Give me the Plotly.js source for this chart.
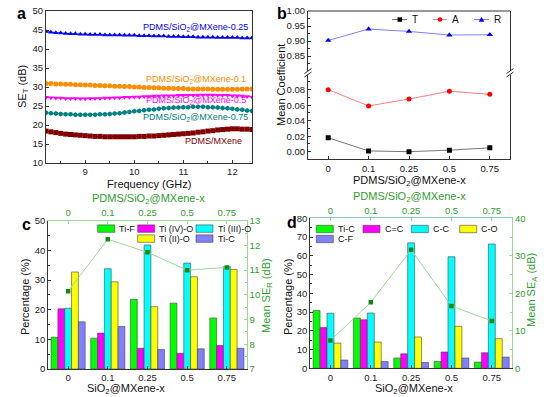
<!DOCTYPE html>
<html><head><meta charset="utf-8">
<script src="https://cdn.plot.ly/plotly-3.0.1.min.js"></script>
<style>html,body{margin:0;padding:0;background:#fff}#chart{width:554px;height:397px}</style>
</head><body><div id="chart"></div>
<script>
// ---------- Panel a data ----------
const freq = [8.2,8.3,8.4,8.5,8.6,8.7,8.8,8.9,9.0,9.1,9.2,9.3,9.4,9.5,9.6,9.7,9.8,9.9,10.0,10.1,10.2,10.3,10.4,10.5,10.6,10.7,10.8,10.9,11.0,11.1,11.2,11.3,11.4,11.5,11.6,11.7,11.8,11.9,12.0,12.1,12.2,12.3,12.4];
const seT025 = [44.6,44.4,44.3,44.2,44.1,44.0,44.0,43.9,43.9,43.8,43.8,43.8,43.7,43.7,43.7,43.7,43.6,43.6,43.6,43.5,43.5,43.5,43.4,43.4,43.4,43.3,43.3,43.3,43.2,43.2,43.2,43.1,43.1,43.1,43.1,43.0,43.0,43.0,43.0,43.0,42.9,42.9,42.9];
const seT01 = [30.9,30.9,30.8,30.8,30.7,30.7,30.6,30.6,30.5,30.5,30.4,30.4,30.3,30.3,30.2,30.2,30.1,30.1,30.0,30.0,29.9,29.9,29.8,29.8,29.7,29.7,29.6,29.6,29.6,29.5,29.5,29.5,29.5,29.5,29.4,29.4,29.4,29.4,29.4,29.4,29.5,29.5,29.5];
const seT05 = [27.3,27.2,27.1,27.1,27.0,27.0,27.0,26.9,26.9,27.0,27.0,27.0,27.1,27.1,27.2,27.2,27.3,27.3,27.4,27.4,27.5,27.5,27.6,27.6,27.7,27.7,27.7,27.8,27.8,27.8,27.8,27.9,27.9,27.9,27.9,27.8,27.8,27.8,27.7,27.7,27.6,27.5,27.4];
const seT075 = [23.2,23.1,23.0,22.9,22.8,22.8,22.7,22.7,22.7,22.7,22.7,22.8,22.8,22.9,23.0,23.1,23.3,23.4,23.6,23.7,23.9,24.0,24.1,24.3,24.4,24.5,24.6,24.6,24.7,24.7,24.8,24.8,24.8,24.7,24.7,24.6,24.5,24.4,24.3,24.1,24.0,23.8,23.7];
const seTMX = [18.4,18.2,18.0,17.8,17.6,17.5,17.4,17.3,17.2,17.1,17.0,17.0,16.9,16.9,16.9,16.9,16.9,16.9,16.9,17.0,17.0,17.1,17.1,17.2,17.3,17.4,17.5,17.6,17.7,17.8,17.9,18.1,18.2,18.4,18.5,18.7,18.8,18.9,19.0,19.0,18.9,18.9,18.8];

// ---------- Panel b data ----------
const xCats = ['0','0.1','0.25','0.5','0.75'];
const coefT = [0.018,0.001,0.000,0.002,0.005];
const coefA = [0.080,0.059,0.068,0.078,0.074];
const coefR = [0.902,0.940,0.932,0.920,0.921];

// ---------- Panel c data ----------
const tiF   = [10.7,10.4,23.5,22.2,17.2];
const tiIV  = [20.3,12.1,7.0,5.3,7.9];
const tiIII = [20.5,33.8,41.8,35.7,34.5];
const tiII  = [32.7,29.4,21.0,31.1,33.6];
const tiC   = [15.9,14.3,6.6,6.8,7.0];
const meanSER = [10.15,12.25,11.72,11.0,11.11];

// ---------- Panel d data ----------
const cTiC = [30.8,26.8,5.5,3.6,3.3];
const cCdC = [21.7,25.9,7.7,8.7,8.3];
const cCC  = [29.4,29.5,66.9,59.5,66.3];
const cCO  = [13.4,14.0,16.7,22.4,15.8];
const cCF  = [4.4,3.6,3.1,5.5,6.0];
const meanSEA = [7.4,17.6,31.6,16.6,12.6];

// ---------- layout helpers ----------
const W=554,H=397;
const fx=p=>p/W, fy=p=>1-p/H;
const FONT='Liberation Sans, Arial, sans-serif';
const GREEN='#2f9e2f', LGREEN='#9ad89a';
const AX='#333';
const tickF={family:FONT,size:9.5,color:'#222'};
const gTickF={family:FONT,size:9.5,color:GREEN};

function baseAx(extra){
  return Object.assign({showline:true,linecolor:AX,linewidth:1,ticks:'inside',ticklen:3,tickcolor:AX,
    showgrid:false,zeroline:false,tickfont:tickF,automargin:false,fixedrange:true},extra);
}

const traces=[];
// panel a
[[seT025,'#0000ff','triangle-up'],[seT01,'#ff8c00','circle'],[seT05,'#ff00ff','triangle-down'],
 [seT075,'#008080','hexagon'],[seTMX,'#800000','square']].forEach(([v,c,s])=>{
  traces.push({x:freq,y:v,type:'scatter',mode:'lines+markers',xaxis:'x',yaxis:'y',
    line:{color:c,width:1},marker:{color:c,symbol:s,size:5}});
});
// panel b
traces.push({x:xCats,y:coefT,type:'scatter',mode:'lines+markers',xaxis:'x2',yaxis:'y2',
  line:{color:'#777',width:1},marker:{color:'#000',symbol:'square',size:5}});
traces.push({x:xCats,y:coefA,type:'scatter',mode:'lines+markers',xaxis:'x2',yaxis:'y2',
  line:{color:'#ff8080',width:1},marker:{color:'#ff0000',symbol:'circle',size:5}});
traces.push({x:xCats,y:coefR,type:'scatter',mode:'lines+markers',xaxis:'x2',yaxis:'y3',
  line:{color:'#8080ff',width:1},marker:{color:'#0000ff',symbol:'triangle-up',size:5.5}});
// panel c
const barLine={color:'#444',width:0.6};
[[tiF,'#00ff00'],[tiIV,'#ff00ff'],[tiIII,'#00ffff'],[tiII,'#ffff00'],[tiC,'#8080ff']].forEach(([v,c])=>{
  traces.push({x:xCats,y:v,type:'bar',xaxis:'x3',yaxis:'y4',marker:{color:c,line:barLine}});
});
traces.push({x:xCats,y:meanSER,type:'scatter',mode:'lines+markers',xaxis:'x4',yaxis:'y5',
  line:{color:LGREEN,width:1},marker:{color:'#128a12',symbol:'square',size:4.5}});
// panel d
[[cTiC,'#00ff00'],[cCdC,'#ff00ff'],[cCC,'#00ffff'],[cCO,'#ffff00'],[cCF,'#8080ff']].forEach(([v,c])=>{
  traces.push({x:xCats,y:v,type:'bar',xaxis:'x5',yaxis:'y6',marker:{color:c,line:barLine}});
});
traces.push({x:xCats,y:meanSEA,type:'scatter',mode:'lines+markers',xaxis:'x6',yaxis:'y7',
  line:{color:LGREEN,width:1},marker:{color:'#128a12',symbol:'square',size:4.5}});

const catRange=[-0.5,4.5];
const layout={
  width:W,height:H,margin:{l:0,r:0,t:0,b:0},paper_bgcolor:'#fff',plot_bgcolor:'rgba(0,0,0,0)',
  showlegend:false,barmode:'group',bargap:0.14,bargroupgap:0,font:{family:FONT,color:'#222'},
  // a
  xaxis:baseAx({domain:[fx(46),fx(252)],anchor:'y',range:[8.2,12.4],dtick:1,tick0:9,mirror:true,
    minor:{ticks:'inside',ticklen:2,dtick:0.5,tick0:8.5,tickcolor:AX}}),
  yaxis:baseAx({domain:[fy(163),fy(11)],anchor:'x',range:[10,50],dtick:5,mirror:true}),
  // b
  xaxis2:baseAx({domain:[fx(308),fx(510)],anchor:'y2',type:'category',range:catRange}),
  yaxis2:baseAx({domain:[fy(159.3),fy(72)],anchor:'x2',range:[-0.0098,0.1028],tickvals:[0,0.02,0.04,0.06,0.08],
    tickformat:'.2f',mirror:true,minor:{ticks:'inside',ticklen:2,tickvals:[0.01,0.03,0.05,0.07,0.09],tickcolor:AX}}),
  yaxis3:baseAx({domain:[fy(72),fy(11)],anchor:'x2',range:[0.797,1.0],tickvals:[0.85,0.9,0.95,1.0],
    tickformat:'.2f',mirror:true,minor:{ticks:'inside',ticklen:2,tickvals:[0.825,0.875,0.925,0.975],tickcolor:AX}}),
  // c
  xaxis3:baseAx({domain:[fx(48.3),fx(246.7)],anchor:'y4',type:'category',range:catRange}),
  yaxis4:baseAx({domain:[fy(369),fy(220.7)],anchor:'x3',range:[0,50],dtick:10,
    minor:{ticks:'inside',ticklen:2,dtick:5,tickcolor:AX}}),
  xaxis4:baseAx({overlaying:'x3',anchor:'y4',side:'top',type:'category',range:catRange,
    linecolor:LGREEN,tickcolor:LGREEN,tickfont:gTickF}),
  yaxis5:baseAx({overlaying:'y4',anchor:'x3',side:'right',range:[7,13],dtick:1,
    linecolor:LGREEN,tickcolor:LGREEN,tickfont:gTickF,minor:{ticks:'inside',ticklen:2,dtick:0.5,tickcolor:LGREEN}}),
  // d
  xaxis5:baseAx({domain:[fx(310.3),fx(512)],anchor:'y6',type:'category',range:catRange}),
  yaxis6:baseAx({domain:[fy(368.3),fy(218.3)],anchor:'x5',range:[0,80],dtick:10,
    minor:{ticks:'inside',ticklen:2,dtick:5,tickcolor:AX}}),
  xaxis6:baseAx({overlaying:'x5',anchor:'y6',side:'top',type:'category',range:catRange,
    linecolor:'#8cc9bc',tickcolor:'#8cc9bc',tickfont:gTickF}),
  yaxis7:baseAx({overlaying:'y6',anchor:'x5',side:'right',range:[0,40],dtick:10,
    linecolor:LGREEN,tickcolor:LGREEN,tickfont:gTickF,minor:{ticks:'inside',ticklen:2,dtick:5,tickcolor:LGREEN}}),
  annotations:[],shapes:[]
};

function ann(text,x,y,opt){
  layout.annotations.push(Object.assign({text:text,x:fx(x),y:fy(y),xref:'paper',yref:'paper',showarrow:false,
    xanchor:'center',yanchor:'middle',font:{family:FONT,size:11,color:'#111'}},opt||{}));
}
// panel labels
ann('<b>a</b>',21,13,{font:{family:FONT,size:16,color:'#000'}});
ann('<b>b</b>',282,13,{font:{family:FONT,size:16,color:'#000'}});
ann('<b>c</b>',26,224,{font:{family:FONT,size:16,color:'#000'}});
ann('<b>d</b>',292,222,{font:{family:FONT,size:16,color:'#000'}});
// a titles & labels
ann('Frequency (GHz)',149,184);
ann('SE<sub>T</sub> (dB)',23,87,{textangle:-90});
const lab=(t,x,y,c)=>ann(t,x,y,{xanchor:'right',font:{family:FONT,size:9,color:c}});
lab('PDMS/SiO<sub>2</sub>@MXene-0.25',250,27,'#0000ff');
lab('PDMS/SiO<sub>2</sub>@MXene-0.1',248,80,'#ff8c00');
lab('PDMS/SiO<sub>2</sub>@MXene-0.5',248,100,'#ff00ff');
lab('PDMS/SiO<sub>2</sub>@MXene-0.75',250,117,'#008080');
lab('PDMS/MXene',244,141.5,'#800000');
// b titles
ann('PDMS/SiO<sub>2</sub>@MXene-x',409,181);
ann('Mean Coefficient',281,85,{textangle:-90});
// c titles
ann('PDMS/SiO<sub>2</sub>@MXene-x',148,198.5,{font:{family:FONT,size:11,color:GREEN}});
ann('SiO<sub>2</sub>@MXene-x',126,388.5);
ann('Percentage (%)',25,297,{textangle:-90});
ann('Mean SE<sub>R</sub> (dB)',267,296,{textangle:-90,font:{family:FONT,size:11,color:GREEN}});
// d titles
ann('PDMS/SiO<sub>2</sub>@MXene-x',409,197.5,{font:{family:FONT,size:11,color:GREEN}});
ann('SiO<sub>2</sub>@MXene-x',414,389);
ann('Percentage (%)',288,297,{textangle:-90});
ann('Mean SE<sub>A</sub> (dB)',532,290,{textangle:-90,font:{family:FONT,size:11,color:GREEN}});

// b frame top line + break marks
layout.shapes.push({type:'line',xref:'x2 domain',yref:'y3 domain',x0:0,x1:1,y0:1,y1:1,line:{color:AX,width:1}});
[308,510].forEach(bx=>{
  layout.shapes.push({type:'rect',xref:'paper',yref:'paper',x0:fx(bx-2.5),x1:fx(bx+2.5),y0:fy(74.5),y1:fy(71),
    fillcolor:'#fff',line:{width:0}});
  layout.shapes.push({type:'line',xref:'paper',yref:'paper',x0:fx(bx-3.5),y0:fy(73.5),x1:fx(bx+3.5),y1:fy(68.5),line:{color:AX,width:1}});
  layout.shapes.push({type:'line',xref:'paper',yref:'paper',x0:fx(bx-3.5),y0:fy(77),x1:fx(bx+3.5),y1:fy(72),line:{color:AX,width:1}});
});

// b legend (manual)
function legLine(x0,x1,y,lc){layout.shapes.push({type:'line',xref:'paper',yref:'paper',x0:fx(x0),x1:fx(x1),y0:fy(y),y1:fy(y),line:{color:lc,width:1}});}
legLine(392,407,19.5,'#777');
layout.shapes.push({type:'rect',xref:'paper',yref:'paper',x0:fx(397.5),x1:fx(402),y0:fy(21.8),y1:fy(17.3),fillcolor:'#000',line:{width:0}});
ann('T',410,19.5,{xanchor:'left',font:{family:FONT,size:10,color:'#111'}});
legLine(433,447,19.5,'#ff8080');
layout.shapes.push({type:'circle',xref:'paper',yref:'paper',x0:fx(437.7),x1:fx(442.3),y0:fy(21.8),y1:fy(17.2),fillcolor:'#ff0000',line:{width:0}});
ann('A',450,19.5,{xanchor:'left',font:{family:FONT,size:10,color:'#111'}});
legLine(474,489,19.5,'#8080ff');
layout.shapes.push({type:'path',xref:'paper',yref:'paper',
  path:`M${fx(478.8)},${fy(21.8)} L${fx(484.2)},${fy(21.8)} L${fx(481.5)},${fy(16.8)} Z`,fillcolor:'#0000ff',line:{width:0}});
ann('R',492,19.5,{xanchor:'left',font:{family:FONT,size:10,color:'#111'}});

// c and d legends (manual)
function legBox(x0,yc,c,t){
  layout.shapes.push({type:'rect',xref:'paper',yref:'paper',x0:fx(x0),x1:fx(x0+17),y0:fy(yc+3.7),y1:fy(yc-3.7),
    fillcolor:c,line:{color:'#444',width:0.6}});
  ann(t,x0+19.5,yc,{xanchor:'left',font:{family:FONT,size:9,color:'#111'}});
}
legBox(97.7,228.6,'#00ff00','Ti-F');
legBox(137.7,228.6,'#ff00ff','Ti (IV)-O');
legBox(196,228.6,'#00ffff','Ti (III)-O');
legBox(137.7,238.6,'#ffff00','Ti (II)-O');
legBox(196,238.6,'#8080ff','Ti-C');

legBox(316.3,229,'#00ff00','Ti-C');
legBox(363,229,'#ff00ff','C=C');
legBox(411.3,229,'#00ffff','C-C');
legBox(459.7,229,'#ffff00','C-O');
legBox(316.3,239,'#8080ff','C-F');

Plotly.newPlot('chart',traces,layout,{staticPlot:true,displayModeBar:false});
</script>
</body></html>
